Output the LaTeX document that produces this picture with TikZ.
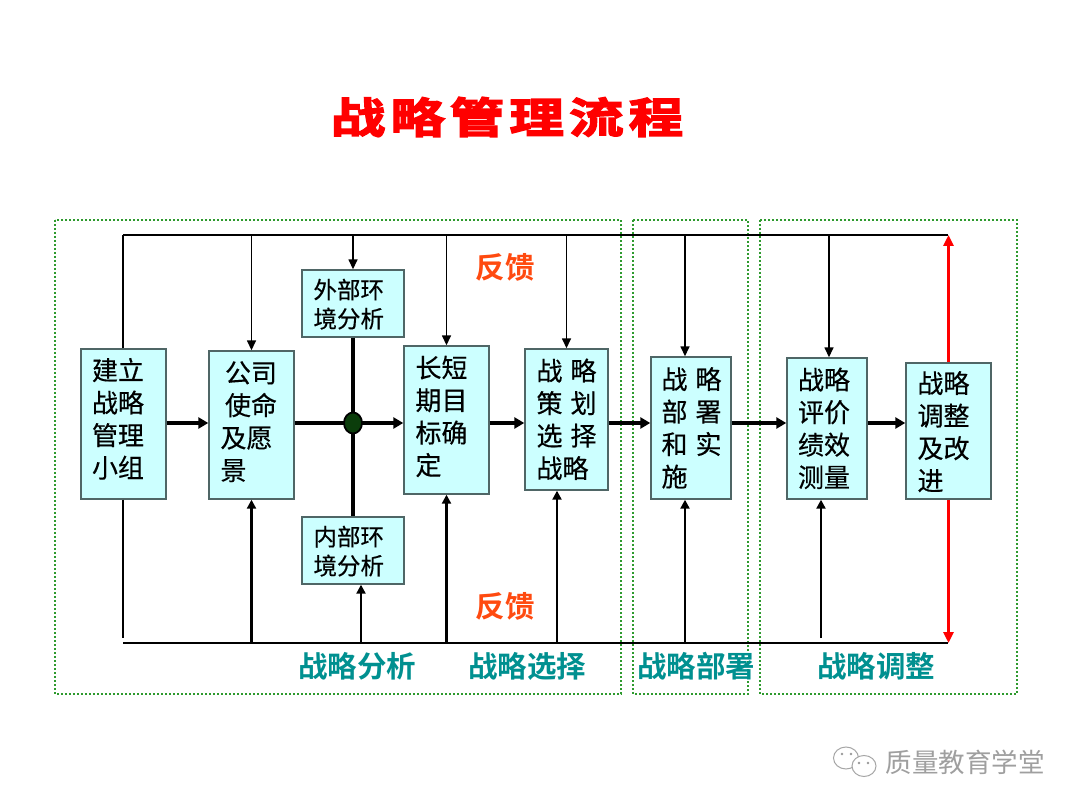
\documentclass[tikz,border=0pt]{standalone}
\usepackage{fontspec}
\setmainfont[FakeBold=0.4]{Noto Sans CJK SC}
\newfontfamily\titlefont[FakeBold=3.5,FakeStretch=1.3]{Noto Sans CJK SC Bold}
\newfontfamily\labelfont{Noto Sans CJK SC Bold}
\newfontfamily\markfont{Noto Sans CJK SC}
\usetikzlibrary{arrows.meta,calc,shapes.geometric}
\definecolor{boxfill}{HTML}{CCFFFF}
\definecolor{boxedge}{HTML}{4F6666}
\definecolor{teal1}{HTML}{009090}
\definecolor{fb}{HTML}{FF4A10}
\definecolor{dotgreen}{HTML}{2E9A2E}
\definecolor{hub}{HTML}{0B3D0B}
% text block: dx of left edge from box centre, dy (up), font size, baselineskip, lines
\newcommand\blk[5]{\makebox[0pt][l]{\hspace*{#1pt}\raisebox{#2pt}[0pt][0pt]{\fontsize{#3}{#4}\selectfont\spaceskip=8pt\relax\begin{tabular}{@{}l@{}}#5\end{tabular}}}}
\tikzset{
  stepbox/.style={draw=boxedge,fill=boxfill,line width=1.4pt,inner sep=0pt,text=black},
  zone/.style={draw=dotgreen,line width=2pt,dash pattern=on 2pt off 2pt},
  bus/.style={line width=2.6pt,black},
  feed/.style={line width=1.5pt,black,-{Triangle[length=10pt,width=9pt]}},
  feedup/.style={line width=2.2pt,black,-{Triangle[length=9pt,width=9pt]}},
  flow/.style={line width=3.2pt,black,-{Triangle[length=10pt,width=11pt]}},
  redarrow/.style={line width=2.6pt,red,-{Triangle[length=11pt,width=10pt]}},
  fbtext/.style={text=fb,font=\fontsize{29.5}{29.5}\labelfont},
  zonetext/.style={text=teal1,font=\fontsize{29.5}{29.5}\labelfont},
}
\begin{document}
\begin{tikzpicture}[x=1pt,y=-1pt]
\useasboundingbox (0,0) rectangle (1080,810);
\fill[white] (0,0) rectangle (1080,810);
\node (title) at (507,117) {\titlefont\fontsize{42}{42}\selectfont\color{red}战\hspace{5pt}略\hspace{5pt}管\hspace{5pt}理\hspace{5pt}流\hspace{5pt}程};
\draw[zone] (55,220) rectangle (621,694);
\draw[zone] (633,220) rectangle (748,694);
\draw[zone] (760,220) rectangle (1017,694);
\coordinate (tl) at (123,235);
\coordinate (tr) at (948,235);
\coordinate (bl) at (123,643);
\coordinate (br) at (948,643);
\coordinate (hubc) at (353,423);
\node[stepbox,minimum width=85pt,minimum height=150pt] (a) at (123.5,424) {\blk{-31.5}{-4.5}{26}{32.5}{建立\\战略\\管理\\小组}};
\node[stepbox,minimum width=85pt,minimum height=148pt] (b) at (251.5,425) {\blk{-31}{-6}{26}{32.5}{\hspace{4.5pt}公司\\\hspace{4.5pt}使命\\及愿\\景}};
\node[stepbox,minimum width=102pt,minimum height=67pt] (ext) at (353,303.5) {\blk{-39.5}{-10}{23.5}{29}{外部环\\境分析}};
\node[stepbox,minimum width=102pt,minimum height=67pt] (int) at (353,550.5) {\blk{-39.5}{-10}{23.5}{29}{内部环\\境分析}};
\node[stepbox,minimum width=85pt,minimum height=148pt] (c) at (446.5,420) {\blk{-31}{-6}{26}{32.5}{长短\\期目\\标确\\定}};
\node[stepbox,minimum width=83pt,minimum height=141pt] (d) at (566.5,419.5) {\blk{-30}{-9.5}{26}{32.5}{战 略\\策 划\\选 择\\战略}};
\node[stepbox,minimum width=80pt,minimum height=142pt] (e) at (691,428) {\blk{-29.5}{-9.5}{26}{32.5}{战 略\\部 署\\和 实\\施}};
\node[stepbox,minimum width=80pt,minimum height=141pt] (f) at (827,428.5) {\blk{-29}{-9.5}{26}{32.5}{战略\\评价\\绩效\\测量}};
\node[stepbox,minimum width=85pt,minimum height=136pt] (g) at (948.5,431) {\blk{-31}{-10.5}{26}{32.5}{战略\\调整\\及改\\进}};
% buses
\draw[bus] (tl) -- (tr);
\draw[bus] (bl) -- (br);
\draw[line width=2.2pt] (a.north -| tl) -- (tl);
\draw[line width=2.2pt] (a.south -| tl) -- ([yshift=5pt]bl);
% feedback arrows from top
\draw[feed] (b.north |- tl) -- (b.north);
\draw[feed] (ext.north |- tl) -- (ext.north);
\draw[feed] (c.north |- tl) -- (c.north);
\draw[feed] (d.north |- tl) -- (d.north);
\draw[feed] ([xshift=-6pt]e.north |- tl) -- ([xshift=-6pt]e.north);
\draw[feed] ([xshift=2pt]f.north |- tl) -- ([xshift=2pt]f.north);
% feedback arrows from bottom
\draw[feedup] (b.south |- bl) -- (b.south);
\draw[feedup] ([xshift=8pt]int.south |- bl) -- ([xshift=8pt]int.south);
\draw[feedup] (c.south |- bl) -- (c.south);
\draw[feedup] ([xshift=-9.5pt]d.south |- bl) -- ([xshift=-9.5pt]d.south);
\draw[feedup] ([xshift=-6pt]e.south |- bl) -- ([xshift=-6pt]e.south);
\draw[feedup] ([xshift=-6pt,yshift=5pt]f.south |- bl) -- ([xshift=-6pt]f.south);
% red
\draw[redarrow] (g.north) -- (g.north |- tr);
\draw[redarrow] (g.south) -- (g.south |- br);
% main flow
\draw[flow] (a.east |- hubc) -- (b.west |- hubc);
\draw[line width=3.2pt] (b.east |- hubc) -- (hubc);
\draw[flow] (hubc) -- (c.west |- hubc);
\draw[flow] (c.east |- hubc) -- (d.west |- hubc);
\draw[flow] (d.east |- hubc) -- (e.west |- hubc);
\draw[flow] (e.east |- hubc) -- (f.west |- hubc);
\draw[flow] (f.east |- hubc) -- (g.west |- hubc);
\draw[line width=3.8pt] (ext) -- (hubc);
\draw[line width=3.8pt] (int) -- (hubc);
\node[draw=black,fill=hub,line width=1.8pt,ellipse,minimum width=18pt,minimum height=21pt,inner sep=0pt] (hubdot) at (hubc) {};
% labels
\node[fbtext] (fb1) at (505,267) {反馈};
\node[fbtext] (fb2) at (505,606) {反馈};
\node[zonetext] (z1) at (357,666) {战略分析};
\node[zonetext] (z2) at (527,666) {战略选择};
\node[zonetext] (z3) at (696,666) {战略部署};
\node[zonetext] (z4) at (876,666) {战略调整};
% watermark
\draw[gray!70,line width=1pt,fill=white] (846,758) ellipse (12.5pt and 11pt);
\draw[gray!70,line width=1pt,fill=white] (864,766) ellipse (12pt and 10.5pt);
\fill[gray!80] (842,754) circle (1.3pt) (851,754) circle (1.3pt) (859,763) circle (1.3pt) (868,763) circle (1.3pt);
\node[text=gray!75] (mark) at (965,762) {\markfont\fontsize{26.5}{26.5}\selectfont 质量教育学堂};
\end{tikzpicture}
\end{document}
